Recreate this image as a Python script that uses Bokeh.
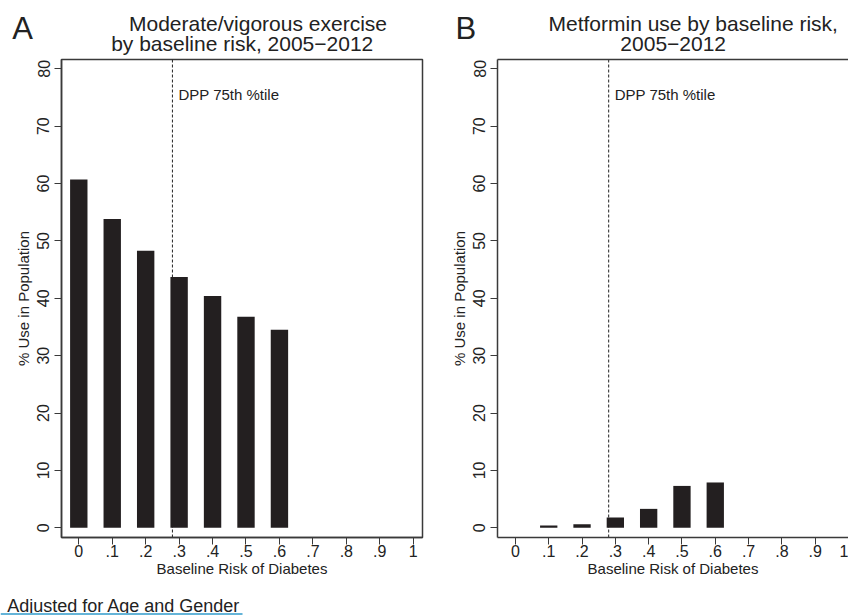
from bokeh.plotting import figure
from bokeh.models import Span, Label, FixedTicker, LinearAxis, Range1d, BoxAnnotation
from bokeh.layouts import row, column
from bokeh.embed import file_html
from bokeh.resources import INLINE

# ---- data ----
risk_a = [0.0, 0.1, 0.2, 0.3, 0.4, 0.5, 0.6]
exercise_pct = [60.7, 53.8, 48.3, 43.7, 40.4, 36.8, 34.5]
risk_b = [0.1, 0.2, 0.3, 0.4, 0.5, 0.6]
metformin_pct = [0.4, 0.6, 1.8, 3.3, 7.3, 7.9]
dpp_75th = 0.28
x_ticks = [0.0, 0.1, 0.2, 0.3, 0.4, 0.5, 0.6, 0.7, 0.8, 0.9, 1.0]
x_tick_labels = ["0", ".1", ".2", ".3", ".4", ".5", ".6", ".7", ".8", ".9", "1"]
y_ticks = [0, 10, 20, 30, 40, 50, 60, 70, 80]

FONT = "Liberation Sans"
INK = "#222222"
FRAME = "#3a3a3a"
BAR = "#231f20"
W = 848
HEAD_H = 57
FOOT_H = 23
MAIN_H = 615 - HEAD_H - FOOT_H


def style_axes(p):
    p.xaxis.ticker = FixedTicker(ticks=x_ticks)
    p.xaxis.major_label_overrides = {t: s for t, s in zip(x_ticks, x_tick_labels)}
    p.yaxis.ticker = FixedTicker(ticks=y_ticks)
    p.yaxis.major_label_orientation = "vertical"
    for ax in (p.xaxis[0], p.yaxis[0]):
        ax.axis_line_color = FRAME
        ax.axis_line_width = 1.5
        ax.major_tick_line_color = FRAME
        ax.major_tick_line_width = 1
        ax.major_tick_out = 7
        ax.major_tick_in = 0
        ax.minor_tick_line_color = None
        ax.major_label_text_font = FONT
        ax.major_label_text_font_size = "16px"
        ax.major_label_text_color = INK
        ax.axis_label_text_font = FONT
        ax.axis_label_text_font_size = "15px"
        ax.axis_label_text_font_style = "normal"
        ax.axis_label_text_color = INK
    p.xaxis.major_label_standoff = 0
    p.xaxis.axis_label_standoff = 0
    p.yaxis.major_label_standoff = 5
    p.yaxis.axis_label_standoff = 3
    p.xaxis.axis_label = "Baseline Risk of Diabetes"
    p.yaxis.axis_label = "% Use in Population"
    p.xgrid.visible = False
    p.ygrid.visible = False


def add_text(p, text, x, y, size, align="left", x_offset=0):
    # y is the vertical middle of the text line
    p.add_layout(Label(x=x, y=y, text=text, x_offset=x_offset,
                       text_font=FONT, text_font_size=size, text_color=INK,
                       text_align=align, text_baseline="middle"))


def text_strip(height, y_top):
    # a blank strip whose frame covers its whole canvas, in page pixels
    s = figure(width=W, height=height, output_backend="svg", toolbar_location=None,
               title=None, x_range=Range1d(0, W), y_range=Range1d(y_top + height, y_top),
               x_axis_type=None, y_axis_type=None, min_border=0)
    s.outline_line_color = None
    s.grid.visible = False
    return s


y_lo, y_hi = -1.69, 81.62

# ---- header (panel letters + titles) ----
head = text_strip(HEAD_H, 0)
add_text(head, "A", 11.7, 27.6, "31px")
add_text(head, "Moderate/vigorous exercise", 257.5, 23.2, "21px", align="center")
add_text(head, "by baseline risk, 2005\u22122012", 241.7, 43.2, "21px", align="center")
add_text(head, "B", 455.0, 27.6, "31px")
add_text(head, "Metformin use by baseline risk,", 692.7, 23.2, "21px", align="center")
add_text(head, "2005\u22122012", 672.7, 43.2, "21px", align="center")

# ---- Panel A ----
pA = figure(width=436, height=MAIN_H, output_backend="svg", toolbar_location=None, title=None,
            x_range=Range1d(-0.0517, 1.0278), y_range=Range1d(y_lo, y_hi),
            min_border_left=61, min_border_right=14, min_border_top=2,
            min_border_bottom=MAIN_H - 2 - 478)
pA.outline_line_color = FRAME
pA.outline_line_width = 1.5
style_axes(pA)
pA.add_layout(Span(location=dpp_75th, dimension="height", line_color=INK, line_width=1,
                   line_dash="3 2", level="underlay"))
pA.vbar(x=risk_a, top=exercise_pct, bottom=0, width=0.052, fill_color=BAR, line_color=None)
add_text(pA, "DPP 75th %tile", dpp_75th, 75.5, "15px", x_offset=6)

# ---- Panel B ----
pB = figure(width=412, height=MAIN_H, output_backend="svg", toolbar_location=None, title=None,
            x_range=Range1d(-0.0538, 1.0), y_range=Range1d(y_lo, y_hi),
            min_border_left=61, min_border_right=0, min_border_top=2,
            min_border_bottom=MAIN_H - 2 - 478)
pB.outline_line_color = None
style_axes(pB)
top_axis = LinearAxis(ticker=FixedTicker(ticks=[]), axis_line_color=FRAME, axis_line_width=1.5,
                      major_tick_line_color=None, minor_tick_line_color=None,
                      major_tick_out=0, major_tick_in=0, minor_tick_out=0, minor_tick_in=0,
                      major_label_standoff=0, axis_label_standoff=0,
                      major_label_text_font_size="0px", major_label_text_color=None)
pB.add_layout(top_axis, "above")
pB.add_layout(Span(location=dpp_75th, dimension="height", line_color=INK, line_width=1,
                   line_dash="3 2", level="underlay"))
pB.vbar(x=risk_b, top=metformin_pct, bottom=0, width=0.052, fill_color=BAR, line_color=None)
add_text(pB, "DPP 75th %tile", dpp_75th, 75.5, "15px", x_offset=6)

# ---- footer ----
foot_top = 615 - FOOT_H
foot = text_strip(FOOT_H, foot_top)
add_text(foot, "Adjusted for Age and Gender", 6.7, 605.3, "18px")
foot.add_layout(BoxAnnotation(left=0, right=242, top=612.5, bottom=614.5,
                              fill_color="#64b4d8", fill_alpha=1.0, line_color=None))

layout = column(head, row(pA, pB), foot)
open("out.html", "w").write(file_html(layout, INLINE))
